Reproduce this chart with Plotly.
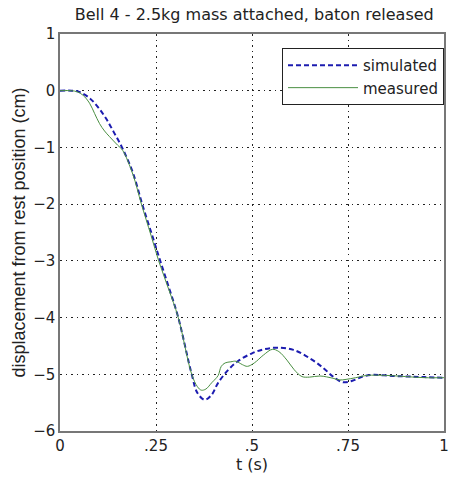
import plotly.graph_objects as go

# simulated response
sim_t = [0, 0.03, 0.05, 0.077, 0.10, 0.12, 0.14, 0.163, 0.19, 0.214, 0.24, 0.261, 0.285, 0.308,
         0.343, 0.358, 0.377, 0.395, 0.411, 0.437, 0.463, 0.5, 0.531, 0.566, 0.608, 0.651,
         0.686, 0.711, 0.737, 0.763, 0.788, 0.814, 0.866, 0.908, 0.95, 1.0]
sim_y = [0, 0, -0.02, -0.13, -0.30, -0.49, -0.73, -1.02, -1.45, -2.0, -2.55, -3.0, -3.5, -4.0,
         -5.0, -5.33, -5.45, -5.36, -5.16, -4.93, -4.77, -4.63, -4.56, -4.53, -4.57, -4.72,
         -4.89, -5.04, -5.14, -5.11, -5.04, -5.01, -5.03, -5.04, -5.05, -5.06]

# measured response
meas_t = [0, 0.03, 0.045, 0.06, 0.077, 0.09, 0.103, 0.116, 0.129, 0.15, 0.163, 0.19, 0.212,
          0.237, 0.257, 0.283, 0.308, 0.343, 0.358, 0.368, 0.38, 0.395, 0.405, 0.412, 0.42,
          0.43, 0.445, 0.458, 0.475, 0.488, 0.506, 0.53, 0.553, 0.57, 0.591, 0.61, 0.63,
          0.65, 0.677, 0.711, 0.728, 0.745, 0.77, 0.8, 0.85, 0.9, 0.95, 1.0]
meas_y = [0, 0, -0.02, -0.08, -0.22, -0.40, -0.58, -0.71, -0.81, -0.96, -1.05, -1.48, -2.0,
          -2.55, -3.0, -3.5, -4.0, -5.0, -5.22, -5.28, -5.26, -5.15, -5.08, -5.02, -4.86,
          -4.8, -4.78, -4.77, -4.83, -4.86, -4.80, -4.66, -4.56, -4.6, -4.75, -4.92, -5.04,
          -5.05, -5.03, -5.07, -5.1, -5.09, -5.06, -5.02, -5.02, -5.04, -5.06, -5.06]

x_ticks = [0, 0.25, 0.5, 0.75, 1]
x_tick_labels = ["0", ".25", ".5", ".75", "1"]
y_ticks = [1, 0, -1, -2, -3, -4, -5, -6]

wide = "DejaVu Sans, sans-serif"
narrow = "Liberation Sans, Arial, sans-serif"

fig = go.Figure()
fig.add_trace(go.Scatter(x=sim_t, y=sim_y, mode="lines", name="simulated",
                         line=dict(color="#1c1cb0", width=2, dash="5px,3px", shape="spline")))
fig.add_trace(go.Scatter(x=meas_t, y=meas_y, mode="lines", name="measured",
                         line=dict(color="#4a8f42", width=1, shape="spline")))

fig.update_layout(
    width=450, height=481,
    margin=dict(l=60, r=1, t=34, b=50),
    paper_bgcolor="white", plot_bgcolor="white",
    font=dict(family=wide, size=15, color="#222"),
    title=dict(text="Bell 4 - 2.5kg mass attached, baton released", x=0.565, xanchor="center",
               y=0.97, yanchor="middle", font=dict(size=16, family=wide)),
    xaxis=dict(range=[0, 1], tickvals=x_ticks, ticktext=x_tick_labels, showgrid=True,
               gridcolor="#222", griddash="1.5px,4px", gridwidth=1, zeroline=False,
               showline=True, linecolor="#777", linewidth=1.5, mirror=True, ticks="",
               ticklabeloverflow="allow",
               title=dict(text="t (s)", standoff=5, font=dict(size=16, family=wide)),
               tickfont=dict(size=15, family=wide)),
    yaxis=dict(range=[-6, 1], tickvals=y_ticks, showgrid=True,
               gridcolor="#222", griddash="1.5px,4px", gridwidth=1, zeroline=False,
               showline=True, linecolor="#777", linewidth=1.5, mirror=True, ticks="",
               title=dict(text="displacement from rest position (cm)", standoff=3,
                          font=dict(size=18, family=narrow)),
               tickfont=dict(size=15, family=wide)),
    legend=dict(x=1, xanchor="right", y=0.965, yanchor="top", bgcolor="white",
                bordercolor="#222", borderwidth=1, font=dict(size=15, family=wide),
                itemwidth=70, tracegroupgap=0),
    showlegend=True,
)
fig.write_html("out.html", config={"displayModeBar": False},
               post_script="document.body.style.margin='0';")
